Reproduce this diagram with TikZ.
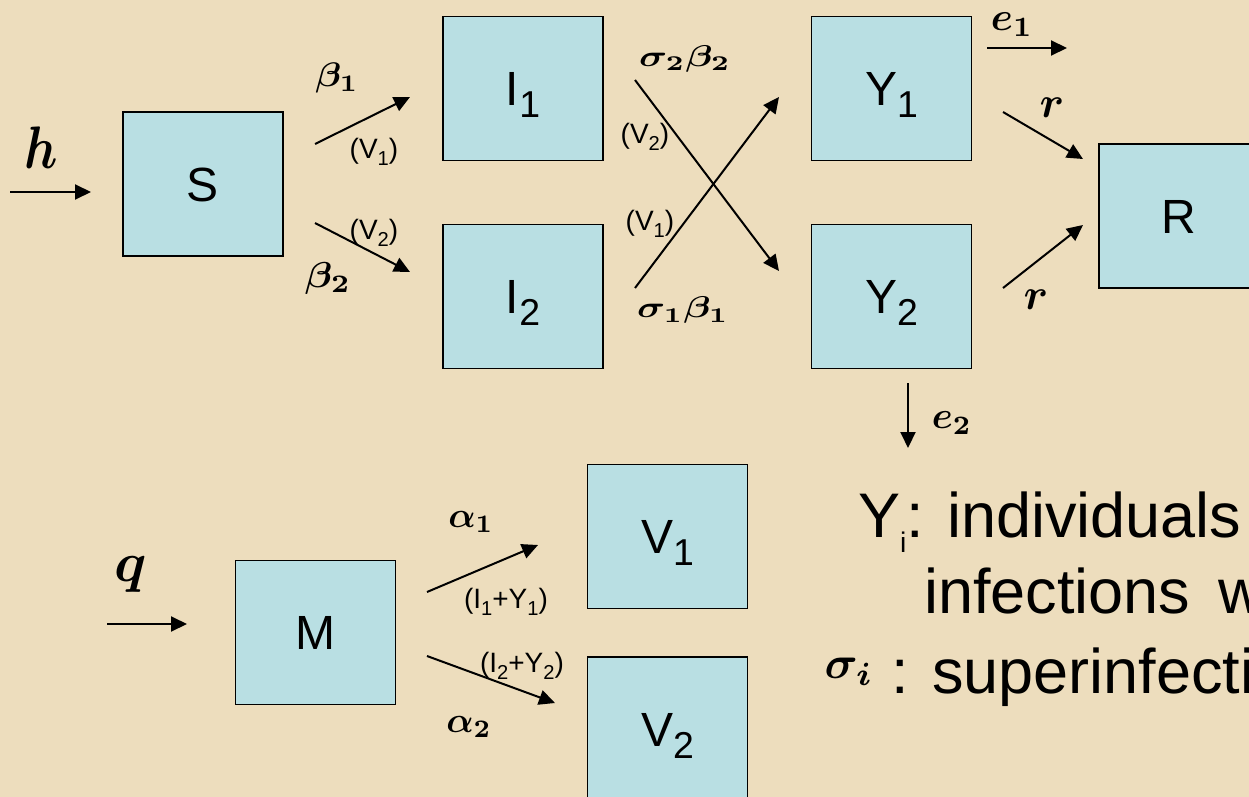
\documentclass[tikz,border=0pt]{standalone}
\usepackage{amsmath}
\usepackage{graphicx}
\usepackage{fontspec}
\setmainfont{Liberation Sans}
\usetikzlibrary{arrows.meta}
\definecolor{parch}{RGB}{237,221,189}
\definecolor{boxblue}{RGB}{185,223,227}
\newcommand\sbs[2][0.72]{\raisebox{-0.25em}{\scalebox{#1}{#2}}}
\newcommand\fs[1]{\fontsize{#1}{#1}\selectfont}
\newcommand\ml[4]{\scalebox{\fpeval{#1/10*#2}}[\fpeval{#1/10*#3}]{\fontsize{10}{12}\selectfont$\boldsymbol{#4}$}}
\tikzset{
  box/.style={draw=black, line width=1.6pt, fill=boxblue, minimum width=160pt,
    minimum height=144pt, inner sep=0pt, font=\fs{48}, text height=34.4pt, text depth=0pt},
  flow/.style={line width=2pt, -{Triangle[length=16pt,width=15pt]}},
  small/.style={inner sep=0pt, font=\fs{28}},
  mlab/.style={inner sep=0pt},
  big/.style={inner sep=0pt, anchor=base west, font=\fs{63}},
}
\begin{document}
\begin{tikzpicture}[x=1pt,y=-1pt]
\useasboundingbox (0,0) rectangle (1249,797);
\fill[parch] (0,0) rectangle (1249,797);
\clip (0,0) rectangle (1249,797);

% boxes
\node[box] (S)  at (203,184)   {S};
\node[box] (I1) at (523,88.5)  {I\sbs[0.78]{1}};
\node[box] (I2) at (523,296.5) {I\sbs[0.78]{2}};
\node[box] (Y1) at (891.5,88.5)  {Y\sbs[0.78]{1}};
\node[box] (Y2) at (891.5,296.5) {Y\sbs[0.78]{2}};
\node[box] (R)  at (1179,216)  {R};
\node[box] (M)  at (315.5,632.5) {M};
\node[box] (V1) at (667.5,536.5) {V\sbs[0.78]{1}};
\node[box] (V2) at (667.5,729)   {V\sbs[0.78]{2}};

% connector end points
\coordinate (hA) at (10,192);   \coordinate (hB) at (91,192);
\coordinate (b1A) at (315,144); \coordinate (b1B) at (410,97);
\coordinate (b2A) at (315,223); \coordinate (b2B) at (410,272);
\coordinate (c1A) at (635,80);  \coordinate (c1B) at (779,271);
\coordinate (c2A) at (635,288); \coordinate (c2B) at (779,97);
\coordinate (e1A) at (987,48);  \coordinate (e1B) at (1067,48);
\coordinate (r1A) at (1003,112); \coordinate (r1B) at (1083,159);
\coordinate (r2A) at (1003,288); \coordinate (r2B) at (1083,225);
\coordinate (e2A) at (908,383); \coordinate (e2B) at (908,448);
\coordinate (qA) at (107,624);  \coordinate (qB) at (187,624);
\coordinate (a1A) at (427,592); \coordinate (a1B) at (538,545);
\coordinate (a2A) at (427,656); \coordinate (a2B) at (555,703);

\draw[flow] (hA) -- (hB);
\draw[flow] (b1A) -- (b1B);
\draw[flow] (b2A) -- (b2B);
\draw[flow] (c1A) -- (c1B);
\draw[flow] (c2A) -- (c2B);
\draw[flow] (e1A) -- (e1B);
\draw[flow] (r1A) -- (r1B);
\draw[flow] (r2A) -- (r2B);
\draw[flow] (e2A) -- (e2B);
\draw[flow] (qA) -- (qB);
\draw[flow] (a1A) -- (a1B);
\draw[flow] (a2A) -- (a2B);

% math labels
\node[mlab] (lh)  at (41,148)  {\ml{50}{1}{1.2}{h}};
\node[mlab] (lq)  at (131,574) {\ml{56}{1}{1}{q}};
\node[mlab] (lb1) at (337,78)  {\ml{34}{1.1}{1}{\beta_1}};
\node[mlab] (lb2) at (328,278) {\ml{36}{1.1}{1}{\beta_2}};
\node[mlab] (ls2) at (685,59)  {\ml{30}{1.3}{1}{\sigma_2\beta_2}};
\node[mlab] (ls1) at (683,310) {\ml{30}{1.3}{1}{\sigma_1\beta_1}};
\node[mlab] (le1) at (1012,25) {\ml{40}{1}{1}{e_1}};
\node[mlab] (lr1) at (1052,108) {\ml{44}{1}{1}{r}};
\node[mlab] (lr2) at (1036,300) {\ml{44}{1}{1}{r}};
\node[mlab] (le2) at (952,423) {\ml{38}{1}{1}{e_2}};
\node[mlab] (la1) at (471,522) {\ml{36}{1}{1}{\alpha_1}};
\node[mlab] (la2) at (469,727) {\ml{36}{1}{1}{\alpha_2}};
\node[mlab] (lsi) at (849,672) {\ml{46}{1}{1}{\sigma_i}};

% small rate labels
\node[small] (v1a) at (374,152) {(V\sbs{1})};
\node[small] (v2a) at (374,233) {(V\sbs{2})};
\node[small] (v2b) at (645,137) {(V\sbs{2})};
\node[small] (v1b) at (650,224) {(V\sbs{1})};
\node[small] (iy1) at (506,602) {(I\sbs{1}+Y\sbs{1})};
\node[small] (iy2) at (522,666) {(I\sbs{2}+Y\sbs{2})};

% legend text (cut off at the right edge, as in the reference)
\node[big] (t1) at (858,537) {Y\sbs[0.45]{i}: individuals};
\node[big] (t2) at (924,613) {infections\hspace{0.45em}w};
\node[big] (t3) at (891,693) {: superinfecti};
\end{tikzpicture}
\end{document}
